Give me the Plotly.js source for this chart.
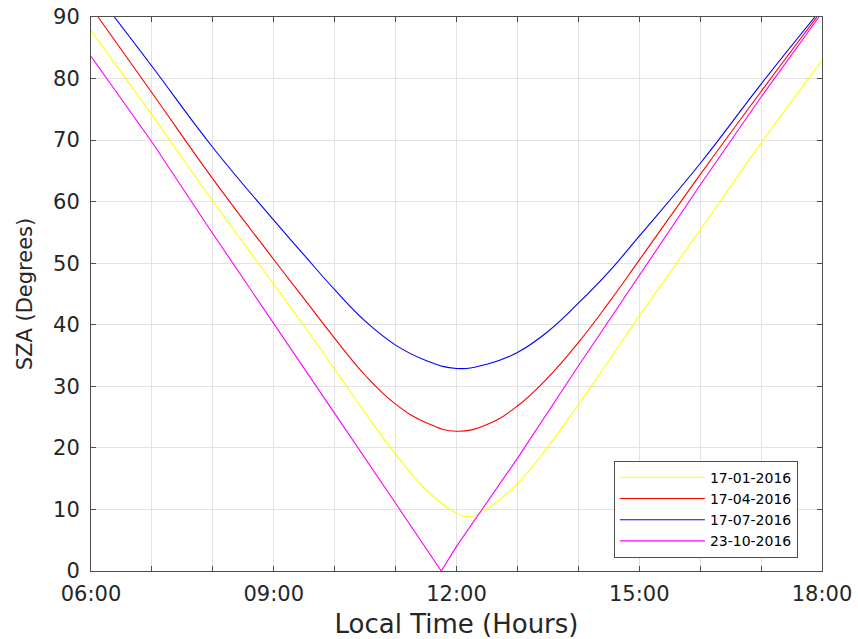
<!DOCTYPE html>
<html>
<head>
<meta charset="utf-8">
<script src="https://cdn.plot.ly/plotly-3.0.1.min.js"></script>
<style>html,body{margin:0;padding:0;background:#fff;}#chart{width:858px;height:639px;}</style>
</head>
<body>
<div id="chart"></div>
<script>
// ---- data ----
const seriesNames = ['17-01-2016', '17-04-2016', '17-07-2016', '23-10-2016'];

const timesJan = ['06:00','07:00','08:00','09:00','09:30','10:00','10:30','11:00','11:30','12:00','12:12','12:30','13:00','13:30','14:00','14:30','15:00','16:00','17:00','18:00'];
const szaJan   = [87.8, 74.1, 60.1, 46.6, 39.8, 32.8, 25.7, 19.0, 13.2, 9.4, 8.8, 10.1, 14.2, 20.2, 27.0, 34.2, 41.4, 55.4, 69.5, 82.9];

const timesApr = ['06:07','07:00','08:00','09:00','09:30','10:00','10:30','11:00','11:30','12:00','12:30','13:00','13:30','14:00','14:30','15:00','16:00','17:00','17:55'];
const szaApr   = [90.0, 77.7, 63.7, 50.6, 44.2, 37.8, 31.8, 27.1, 24.1, 22.7, 23.8, 26.8, 31.4, 37.1, 43.6, 50.5, 64.4, 77.9, 90.0];

const timesJul = ['06:23','07:00','08:00','09:00','09:30','10:00','10:30','11:00','11:30','12:00','12:30','13:00','13:30','14:00','14:30','15:00','16:00','17:00','17:53'];
const szaJul   = [90.0, 82.0, 68.8, 57.0, 51.3, 45.7, 40.6, 36.7, 34.2, 32.9, 33.6, 35.5, 38.9, 43.5, 48.6, 54.4, 66.2, 79.1, 90.0];

const timesOct = ['06:00','07:00','08:00','09:00','10:00','11:00','11:45','12:00','13:00','14:00','15:00','16:00','17:00','17:57'];
const szaOct   = [83.6, 69.7, 54.8, 40.3, 25.6, 11.0, 0.0, 4.0, 18.3, 33.3, 48.1, 62.7, 77.0, 90.0];

const tickHours  = [6, 7, 8, 9, 10, 11, 12, 13, 14, 15, 16, 17, 18];
const tickLabels = ['06:00', '', '', '09:00', '', '', '12:00', '', '', '15:00', '', '', '18:00'];

// ---- helpers ----
function toHours(t) { const p = t.split(':'); return Number(p[0]) + Number(p[1]) / 60; }

const font = 'DejaVu Sans, Liberation Sans, Arial, sans-serif';
const colors = ['#ffff00', '#ff0000', '#0000ff', '#ff00ff'];
const allTimes = [timesJan, timesApr, timesJul, timesOct];
const allVals = [szaJan, szaApr, szaJul, szaOct];

const traces = allTimes.map((ts, i) => ({
  type: 'scatter',
  mode: 'lines',
  name: seriesNames[i],
  x: ts.map(toHours),
  y: allVals[i],
  line: { color: colors[i], width: 1.1, shape: i === 3 ? 'linear' : 'spline', smoothing: 1.25 },
  hoverinfo: 'skip'
}));

const axisCommon = {
  showline: true, linecolor: '#4d4d4d', linewidth: 1, mirror: 'ticks',
  ticks: 'inside', ticklen: 5, tickcolor: '#4d4d4d', tickwidth: 1,
  showgrid: true, gridcolor: '#e2e2e2', gridwidth: 1,
  zeroline: false,
  tickfont: { family: font, size: 21, color: '#262626' }
};

const layout = {
  width: 858, height: 639,
  margin: { l: 91, r: 36, t: 17, b: 68, pad: 0 },
  paper_bgcolor: '#ffffff', plot_bgcolor: '#ffffff',
  showlegend: true,
  xaxis: Object.assign({}, axisCommon, {
    range: [6, 18], tickmode: 'array', tickvals: tickHours, ticktext: tickLabels,
    ticklabelstandoff: 4,
    title: { text: 'Local Time (Hours)', font: { family: font, size: 26, color: '#262626' }, standoff: 9 }
  }),
  yaxis: Object.assign({}, axisCommon, {
    range: [0, 90], tickmode: 'linear', tick0: 0, dtick: 10,
    ticklabelstandoff: 6,
    title: { text: 'SZA (Degrees)', font: { family: font, size: 21, color: '#262626' }, standoff: 14 }
  }),
  legend: {
    x: 0.967, xanchor: 'right', y: 0.024, yanchor: 'bottom',
    bgcolor: '#ffffff', bordercolor: '#4d4d4d', borderwidth: 1,
    font: { family: font, size: 14, color: '#000000' },
    tracegroupgap: 0, itemwidth: 85
  }
};

Plotly.newPlot('chart', traces, layout, { staticPlot: true, displayModeBar: false });
</script>
</body>
</html>
